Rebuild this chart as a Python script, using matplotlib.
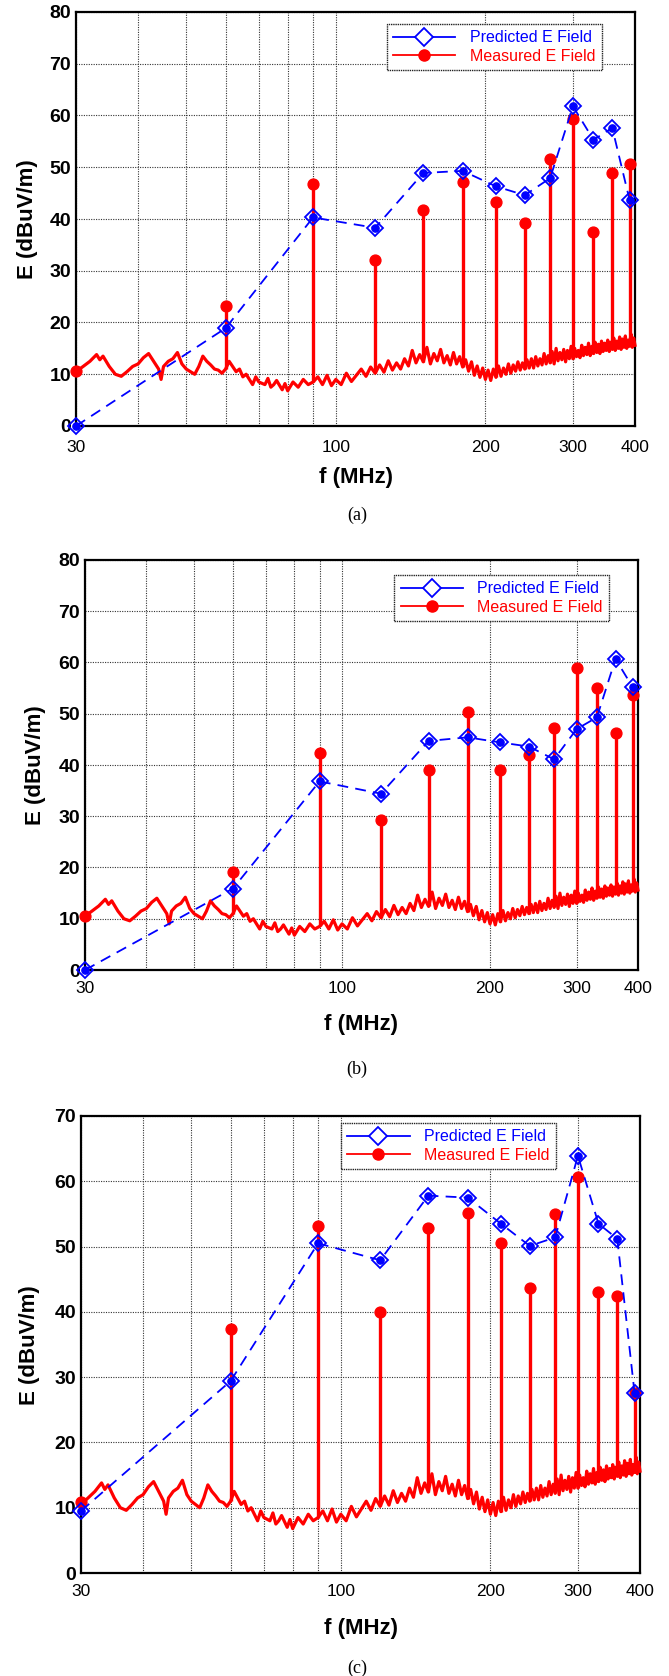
import numpy as np
import matplotlib
matplotlib.use("Agg")
import matplotlib.pyplot as plt
from matplotlib.lines import Line2D
from matplotlib.ticker import FixedLocator, NullFormatter

# ---------------- data ----------------
harm_f = [30, 60, 90, 120, 150, 180, 210, 240, 270, 300, 330, 360, 390]

pred_a = [0.0, 18.9, 40.3, 38.3, 48.9, 49.3, 46.3, 44.6, 47.9, 61.8, 55.3, 57.6, 43.7]
meas_a = [10.6, 23.2, 46.7, 32.1, 41.8, 47.2, 43.3, 39.3, 51.5, 59.4, 37.4, 48.8, 50.6]

pred_b = [0.0, 15.9, 36.8, 34.4, 44.7, 45.4, 44.4, 43.6, 41.1, 47.0, 49.3, 60.7, 55.2]
meas_b = [10.6, 19.2, 42.4, 29.2, 39.0, 50.3, 39.0, 42.0, 47.2, 58.9, 55.0, 46.3, 53.6]

pred_c = [9.5, 29.4, 50.5, 47.9, 57.8, 57.5, 53.5, 50.1, 51.4, 63.9, 53.5, 51.2, 27.6]
meas_c = [10.9, 37.4, 53.1, 40.0, 52.8, 55.2, 50.6, 43.6, 55.0, 60.7, 43.1, 42.5, 27.5]

# background (noise floor) trace
noise_f_low = [30, 31, 32, 33, 33.5, 34, 35, 36, 37, 38, 39, 40, 41, 42, 43, 44, 44.5, 45, 46, 47,
               48, 49, 50, 51, 52, 53, 54, 55, 56, 57, 58, 59, 60, 61, 62, 63, 64, 65, 66, 67,
               68, 69, 70, 72, 73, 74, 75, 76, 78, 79, 80, 82, 84, 86, 88, 90, 92, 94, 96, 98]
noise_v_low = [10.5, 11.5, 12.5, 13.8, 12.8, 13.5, 11.5, 10.0, 9.6, 10.5, 11.5, 12.0, 13.2, 14.0, 12.5, 11.0, 9.0, 11.5, 12.5, 13.0,
               14.2, 12.0, 11.0, 10.5, 10.0, 11.5, 13.5, 12.5, 11.8, 11.0, 10.8, 10.2, 11.0, 12.5, 11.5, 10.5, 11.0, 9.5, 10.0, 9.0,
               8.0, 9.5, 8.5, 8.0, 9.2, 7.5, 8.0, 8.8, 7.0, 8.2, 6.8, 8.5, 7.5, 9.0, 8.0, 8.5, 9.5, 8.0, 9.8, 7.8]
noise_f_high = [100, 102.5, 105, 107.5, 110, 112.5, 115, 117.5, 120, 122.5, 125, 127.5, 130, 132.5, 135, 137.5, 140, 142.5, 145, 147.5,
                150, 152.5, 155, 157.5, 160, 162.5, 165, 167.5, 170, 172.5, 175, 177.5, 180, 182.5, 185, 187.5, 190, 192.5, 195, 197.5,
                200, 202.5, 205, 207.5, 210, 212.5, 215, 217.5, 220, 222.5, 225, 227.5, 230, 232.5, 235, 237.5, 240, 242.5, 245, 247.5,
                250, 252.5, 255, 257.5, 260, 262.5, 265, 267.5, 270, 272.5, 275, 277.5, 280, 282.5, 285, 287.5, 290, 292.5, 295, 297.5,
                300, 302.5, 305, 307.5, 310, 312.5, 315, 317.5, 320, 322.5, 325, 327.5, 330, 332.5, 335, 337.5, 340, 342.5, 345, 347.5,
                350, 352.5, 355, 357.5, 360, 362.5, 365, 367.5, 370, 372.5, 375, 377.5, 380, 382.5, 385, 387.5, 390, 392.5, 395, 397.5, 400]
noise_v_high = [9.0, 8.0, 10.2, 8.6, 9.8, 11.0, 9.6, 11.4, 10.2, 11.8, 10.4, 12.6, 10.8, 12.2, 11.0, 13.0, 11.6, 14.6, 12.2, 13.8,
                12.4, 15.2, 12.0, 14.0, 12.6, 14.8, 12.2, 13.6, 11.8, 14.2, 12.0, 13.4, 11.4, 12.8, 10.6, 12.4, 9.8, 11.6, 9.4, 11.2,
                9.0, 10.8, 8.8, 11.0, 9.4, 11.6, 9.6, 11.2, 10.0, 12.0, 10.2, 11.8, 10.6, 12.4, 10.8, 12.2, 11.0, 12.8, 11.2, 13.0,
                11.2, 13.4, 11.6, 13.0, 11.8, 14.0, 12.0, 13.6, 12.2, 14.4, 12.0, 15.0, 12.6, 14.2, 12.8, 14.8, 12.4, 14.6, 13.0, 15.4,
                13.0, 15.0, 13.4, 14.6, 13.2, 15.6, 13.6, 15.2, 13.8, 16.0, 13.6, 15.4, 14.0, 16.2, 14.2, 15.8, 14.0, 16.4, 14.4, 16.0,
                14.6, 16.6, 14.4, 16.2, 14.8, 17.0, 14.6, 16.4, 15.0, 17.2, 14.8, 16.8, 15.2, 17.4, 15.0, 16.6, 15.4, 17.8, 15.2, 17.0, 15.6]
noise_f = noise_f_low + noise_f_high
noise_v = noise_v_low + noise_v_high

xtick_major = [30, 100, 200, 300, 400]
xtick_minor = [40, 50, 60, 70, 80, 90]

panels = [
    dict(pred=pred_a, meas=meas_a, ymax=80, cap="(a)",
         box=(76, 12, 635, 426), xl=(356, 478), yl=(27, 219), cp=(357, 515),
         leg=(0.556, 0.971), xpad=10.0),
    dict(pred=pred_b, meas=meas_b, ymax=80, cap="(b)",
         box=(85, 560, 638, 970), xl=(361, 1024), yl=(36, 765), cp=(357, 1069),
         leg=(0.559, 0.964), xpad=8.0),
    dict(pred=pred_c, meas=meas_c, ymax=70, cap="(c)",
         box=(81, 1116, 640, 1573), xl=(361, 1628), yl=(29, 1345), cp=(357, 1668),
         leg=(0.465, 0.985), xpad=7.7),
]

W, H = 669, 1676
fig = plt.figure(figsize=(W / 100, H / 100), dpi=100)
sans = ["Liberation Sans", "DejaVu Sans"]
serif = ["Liberation Serif", "DejaVu Serif"]

for p in panels:
    x0, y0, x1, y1 = p["box"]
    ax = fig.add_axes([x0 / W, 1 - y1 / H, (x1 - x0) / W, (y1 - y0) / H])
    ax.set_xscale("log")
    ax.set_xlim(30, 400)
    ax.set_ylim(0, p["ymax"])

    # noise floor trace
    ax.plot(noise_f, noise_v, color="red", lw=2.3, zorder=3, clip_on=False)
    # stems at harmonics
    base = np.interp(np.log10(harm_f), np.log10(noise_f), noise_v)
    ax.vlines(harm_f[1:], base[1:], p["meas"][1:], color="red", lw=2.4, zorder=3)
    ax.plot(harm_f, p["meas"], "o", color="red", ms=7.8, zorder=4, clip_on=False)

    # predicted
    ax.plot(harm_f, p["pred"], color="blue", lw=1.3, ls=(0, (6, 4)), zorder=5, clip_on=False)
    ax.plot(harm_f, p["pred"], "D", mfc="none", mec="blue", mew=1.3, ms=8.5, zorder=6, clip_on=False)
    ax.plot(harm_f, p["pred"], "o", color="blue", ms=5.2, zorder=6, clip_on=False)

    ax.xaxis.set_major_locator(FixedLocator(xtick_major))
    ax.xaxis.set_minor_locator(FixedLocator(xtick_minor))
    ax.xaxis.set_minor_formatter(NullFormatter())
    ax.set_xticklabels([str(v) for v in xtick_major], fontfamily=sans, fontsize=12.5)
    ax.set_yticks(np.arange(0, p["ymax"] + 1, 10))
    ax.set_yticklabels([str(v) for v in range(0, p["ymax"] + 1, 10)],
                       fontfamily=sans, fontsize=14, fontweight="bold")
    ax.tick_params(axis="both", which="both", length=0)
    ax.tick_params(axis="x", pad=p["xpad"])
    ax.tick_params(axis="y", pad=3.6)
    ax.grid(True, which="both", color="#333333", ls=(0, (1, 1.2)), lw=0.8)
    for s in ax.spines.values():
        s.set_linewidth(1.6)
        s.set_color("black")

    handles = [Line2D([], [], color="blue", lw=1.3, marker="D", mfc="white", mec="blue", mew=1.3, ms=9),
               Line2D([], [], color="red", lw=1.3, marker="o", ms=8)]
    leg = ax.legend(handles, ["Predicted E Field", "Measured E Field"], loc="upper left",
                    bbox_to_anchor=p["leg"], prop=dict(family=sans, size=11.5),
                    frameon=True, fancybox=False, framealpha=1, edgecolor="#222222",
                    handlelength=3.9, borderpad=0.4, labelspacing=0.22, handletextpad=0.9,
                    borderaxespad=0)
    leg.get_frame().set_linewidth(1.0)
    leg.get_frame().set_linestyle((0, (1, 0.6)))
    for t, c in zip(leg.get_texts(), ["blue", "red"]):
        t.set_color(c)
    leg.set_zorder(10)

    fig.text(p["xl"][0] / W, 1 - p["xl"][1] / H, "f (MHz)", ha="center", va="center",
             fontfamily=sans, fontsize=16, fontweight="bold")
    fig.text(p["yl"][0] / W, 1 - p["yl"][1] / H, "E (dBuV/m)", ha="center", va="center",
             rotation=90, fontfamily=sans, fontsize=16, fontweight="bold")
    fig.text(p["cp"][0] / W, 1 - p["cp"][1] / H, p["cap"], ha="center", va="center",
             fontfamily=serif, fontsize=13)

fig.savefig("out.png", dpi=100)
